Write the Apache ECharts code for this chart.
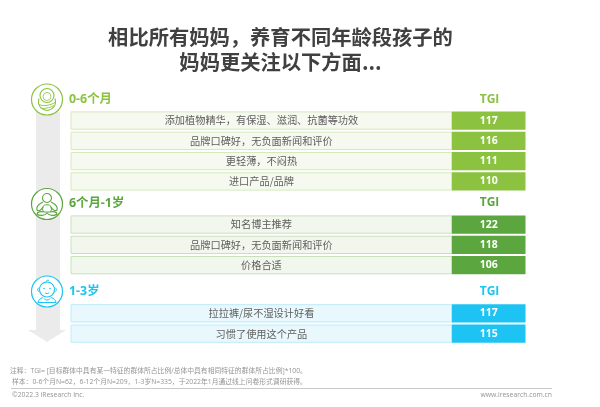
<!DOCTYPE html>
<html>
<head>
<meta charset="utf-8">
<style>
  html, body { margin: 0; padding: 0; background: #fff; }
  #main { width: 600px; height: 407px; }
</style>
<script src="https://cdn.jsdelivr.net/npm/echarts@6/dist/echarts.min.js"></script>
</head>
<body>
<div id="main"></div>
<script>
const titleText = '相比所有妈妈，养育不同年龄段孩子的\n妈妈更关注以下方面...';
const groupNames = ['0-6个月', '6个月-1岁', '1-3岁'];
const valueHeader = 'TGI';
const items0 = ['添加植物精华，有保湿、滋润、抗菌等功效', '品牌口碑好，无负面新闻和评价', '更轻薄，不闷热', '进口产品/品牌'];
const tgi0 = [117, 116, 111, 110];
const items1 = ['知名博主推荐', '品牌口碑好，无负面新闻和评价', '价格合适'];
const tgi1 = [122, 118, 106];
const items2 = ['拉拉裤/尿不湿设计好看', '习惯了使用这个产品'];
const tgi2 = [117, 115];
const note1 = '注释：TGI= [目标群体中具有某一特征的群体所占比例/总体中具有相同特征的群体所占比例]*100。';
const note2 = '样本：0-6个月N=62，6-12个月N=209，1-3岁N=335，于2022年1月通过线上问卷形式调研获得。';
const copyright = '©2022.3 iResearch Inc.';
const siteUrl = 'www.iresearch.com.cn';

const FONT = '"Open Sans","Noto Sans CJK SC",sans-serif';
const CJK = '"Noto Sans CJK SC",sans-serif';
const TEXT = '#5e5e5e';
const colors = ['#8bc340', '#5ba63e', '#1cc3f3'];
const fills = ['#f6f9f0', '#f2f7ee', '#e9f8fd'];
const borders = ['#d6e9bd', '#c9e0bd', '#bfebf8'];

const itemLists = [items0, items1, items2];
const tgiLists = [tgi0, tgi1, tgi2];
const gridTops = [110.4, 214.4, 303.2];
const rowH = 20.3;
const headerY = [99.5, 203, 291.5];
const iconY = [99.5, 204, 291.5];
const splitAt = 83.8; // 名称格和TGI格的分界

function rowRender(idx) {
  return function (params, api) {
    const row = api.value(0);
    const left = api.coord([0, row]);
    const mid = api.coord([splitAt, row]);
    const right = api.coord([100, row]);
    const h = api.size([0, 1])[1] - 3;
    const top = left[1] - h / 2;
    return {
      type: 'group',
      children: [
        {
          type: 'rect',
          shape: { x: left[0], y: top, width: mid[0] - left[0], height: h },
          style: { fill: fills[idx], stroke: borders[idx], lineWidth: 1 }
        },
        {
          type: 'rect',
          shape: { x: mid[0], y: top - 0.5, width: right[0] - mid[0], height: h + 1 },
          style: { fill: colors[idx] }
        },
        {
          type: 'text',
          style: {
            x: (left[0] + mid[0]) / 2, y: left[1],
            text: itemLists[idx][params.dataIndex],
            fill: TEXT, font: '10.2px ' + CJK, align: 'center', verticalAlign: 'middle'
          }
        },
        {
          type: 'text',
          style: {
            x: (mid[0] + right[0]) / 2, y: left[1],
            text: String(api.value(1)),
            fill: '#fff', font: 'bold 10.5px ' + FONT, align: 'center', verticalAlign: 'middle'
          }
        }
      ]
    };
  };
}

const grids = [], xAxes = [], yAxes = [], series = [], titles = [];
itemLists.forEach(function (list, i) {
  grids.push({ left: 71, width: 454.5, top: gridTops[i], height: rowH * list.length });
  xAxes.push({ type: 'value', gridIndex: i, min: 0, max: 100, show: false });
  yAxes.push({ type: 'category', gridIndex: i, inverse: true, show: false, data: list });
  series.push({
    type: 'custom',
    xAxisIndex: i,
    yAxisIndex: i,
    renderItem: rowRender(i),
    encode: { y: 0, x: 1 },
    data: tgiLists[i].map(function (v, k) { return [k, v]; }),
    clip: false
  });
  titles.push({
    text: groupNames[i], left: 69, top: headerY[i] - 8, padding: 0,
    textStyle: { color: colors[i], fontFamily: FONT, fontWeight: 'bold', fontSize: 12.4, lineHeight: 16 }
  });
  titles.push({
    text: valueHeader, left: 489.5, top: headerY[i] - 8, padding: 0, textAlign: 'center',
    textStyle: { color: colors[i], fontFamily: FONT, fontWeight: 'bold', fontSize: 12, lineHeight: 16 }
  });
});

titles.push({
  text: titleText, left: 280.5, top: 24.5, padding: 0, textAlign: 'center',
  textStyle: { color: '#404040', fontFamily: CJK, fontWeight: 'bold', fontSize: 20.3, lineHeight: 25 }
});
[[note1, 10, 367], [note2, 12, 378], [copyright, 12, 391]].forEach(function (n) {
  titles.push({
    text: n[0], left: n[1], top: n[2], padding: 0,
    textStyle: { color: '#949494', fontFamily: FONT, fontWeight: 'normal', fontSize: 6.8, lineHeight: 9 }
  });
});
titles.push({
  text: siteUrl, right: 48, top: 391, padding: 0,
  textStyle: { color: '#949494', fontFamily: FONT, fontWeight: 'normal', fontSize: 6.8, lineHeight: 9 }
});

// 图标都是简单线稿，以圆心为原点
function stroked(color, w) { return { fill: 'none', stroke: color, lineWidth: w || 1 }; }

function icon0(c) {
  return [
    { type: 'circle', shape: { cx: 0, cy: -4, r: 7 }, style: stroked(c, 1.1) },
    { type: 'circle', shape: { cx: 0, cy: -3, r: 4 }, style: stroked(c, 0.8) },
    { type: 'path', shape: { pathData: 'M-8 -1 C-10 6 -6 10 0 11 C6 10 10 6 8 -1' }, style: stroked(c, 1.1) },
    { type: 'path', shape: { pathData: 'M-8 5 C-3 7 3 6 8 3 M-5 9 C-1 9 4 8 7 6' }, style: stroked(c, 0.9) }
  ];
}
function icon1(c) {
  return [
    { type: 'circle', shape: { cx: 0, cy: -6, r: 4.5 }, style: stroked(c, 1.1) },
    { type: 'path', shape: { pathData: 'M-4 -2 C-8 0 -11 3 -10 6 C-8 8 -5 5 -4 3 M4 -2 C8 0 11 3 10 6 C8 8 5 5 4 3' }, style: stroked(c, 1.1) },
    { type: 'path', shape: { pathData: 'M-4 3 C-4 0 4 0 4 3 C5 6 4 7 3 8 L-3 8 C-4 7 -5 6 -4 3' }, style: stroked(c, 1) },
    { type: 'path', shape: { pathData: 'M-3 8 C-6 7 -10 8 -10 10 C-8 12 -2 12 0 9 C2 12 8 12 10 10 C10 8 6 7 3 8' }, style: stroked(c, 1.1) }
  ];
}
function icon2(c) {
  return [
    { type: 'circle', shape: { cx: 0, cy: -2, r: 7.5 }, style: stroked(c, 1.1) },
    { type: 'path', shape: { pathData: 'M-7.5 -4 C-10 -3 -10 0 -7.5 0 M7.5 -4 C10 -3 10 0 7.5 0' }, style: stroked(c, 1) },
    { type: 'path', shape: { pathData: 'M-1 -9.5 C-1 -11 1 -12 2 -11' }, style: stroked(c, 1) },
    { type: 'circle', shape: { cx: -3, cy: -3, r: 0.8 }, style: { fill: c } },
    { type: 'circle', shape: { cx: 3, cy: -3, r: 0.8 }, style: { fill: c } },
    { type: 'path', shape: { pathData: 'M-2 1 C-1 2.5 1 2.5 2 1' }, style: stroked(c, 0.9) },
    { type: 'path', shape: { pathData: 'M-4 6 C-7 7 -9 9 -9 11 L9 11 C9 9 7 7 4 6 M-3 7 C-2 9 2 9 3 7' }, style: stroked(c, 1) }
  ];
}
const iconParts = [icon0, icon1, icon2];

// graphic组件不支持path，图标放到custom系列里画
series.push({
  type: 'custom',
  coordinateSystem: 'none',
  silent: true,
  data: [0, 1, 2],
  renderItem: function (params) {
    const i = params.dataIndex;
    return {
      type: 'group', x: 47, y: iconY[i],
      children: [
        { type: 'circle', shape: { cx: 0, cy: 0, r: 15.5 }, style: { fill: '#fff', stroke: colors[i], lineWidth: 1.2 } }
      ].concat(iconParts[i](colors[i]))
    };
  }
});

const graphics = [
  {
    type: 'polygon',
    shape: { points: [[36, 112], [60, 112], [60, 330], [66, 330], [47, 342], [28, 330], [36, 330]] },
    style: { fill: '#ebebeb' }
  },
  {
    type: 'line',
    shape: { x1: 11, y1: 388.5, x2: 552, y2: 388.5 },
    style: { stroke: '#bdbdbd', lineWidth: 0.8 }
  }
];

const myChart = echarts.init(document.getElementById('main'));
myChart.setOption({
  animation: false,
  backgroundColor: '#fff',
  title: titles,
  grid: grids,
  xAxis: xAxes,
  yAxis: yAxes,
  graphic: graphics,
  series: series
});
</script>
</body>
</html>
